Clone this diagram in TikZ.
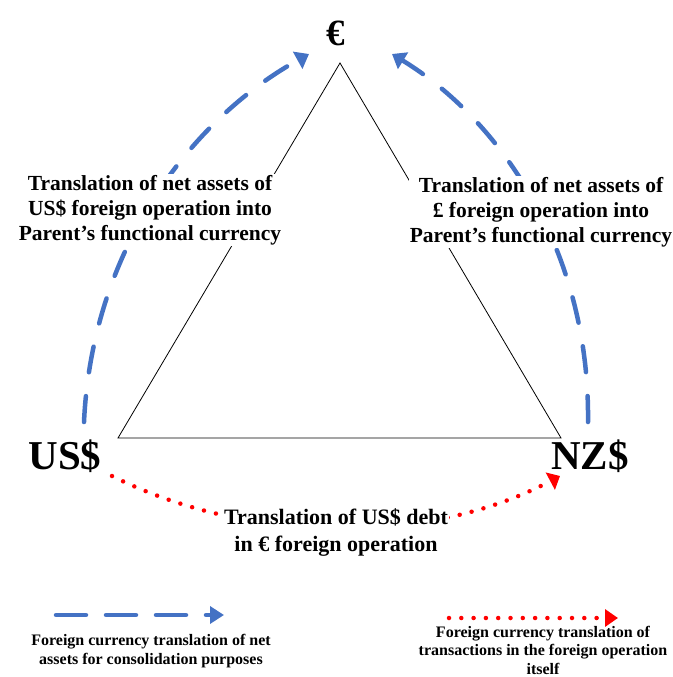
\documentclass[tikz,border=0pt]{standalone}
\usepackage{fontspec}
\setmainfont{Liberation Serif}
\usetikzlibrary{arrows.meta}
\definecolor{cblue}{RGB}{68,114,196}
\begin{document}
\begin{tikzpicture}[x=1pt,y=-1pt,
  cur/.style={font=\bfseries\fontsize{41}{41}\selectfont, inner sep=0pt},
  lbl/.style={font=\bfseries\fontsize{21.5}{25}\selectfont, align=center, fill=white, inner sep=1pt},
  leg/.style={font=\bfseries\fontsize{16}{18.5}\selectfont, align=center, inner sep=0pt},
  bluedash/.style={draw=cblue, line width=4.5pt, line cap=round, dash pattern=on 26pt off 24pt, -{Triangle[length=13pt,width=19pt,line cap=butt]}},
  reddot/.style={draw=red, line width=4.5pt, line cap=round, dash pattern=on 0pt off 12.3pt, -{Triangle[length=11pt,width=19pt,line cap=butt]}},
  tri/.style={draw=black, line width=0.8pt}]
\useasboundingbox (0,0) rectangle (672,677);
% triangle
\coordinate (A) at (340,63);
\coordinate (B) at (118,438);
\coordinate (C) at (561,438);
\draw[tri] (A) -- (B) -- (C) -- cycle;
% currency labels
\node[cur, font=\bfseries\fontsize{37}{37}\selectfont] (eur) at (336,33) {€};
\node[cur] (usd) at (65,456) {US\$};
\node[cur] (nzd) at (590,456) {NZ\$};
% arcs
\coordinate (l0) at (84,422);
\coordinate (l1) at (309,54);
\coordinate (r0) at (588,422);
\coordinate (r1) at (392,54);
\coordinate (d0) at (112,476);
\coordinate (d1) at (560,476);
\draw[bluedash] (l0) .. controls (92,250) and (190,120) .. (l1);
\draw[bluedash] (r0) .. controls (590,250) and (500,120) .. (r1);
\draw[reddot] (d0) .. controls (250,545) and (430,545) .. (d1);
% labels
\node[lbl] (ll) at (150,210) {Translation of net assets of\\US\$ foreign operation into\\Parent’s functional currency};
\node[lbl] (rl) at (541,212) {Translation of net assets of\\£ foreign operation into\\Parent’s functional currency};
\node[lbl, font=\bfseries\fontsize{22}{27}\selectfont, inner sep=1.5pt] (bl) at (336,532) {Translation of US\$ debt\\in € foreign operation};
% legend
\coordinate (lg1a) at (56,615);
\coordinate (lg1b) at (224,615);
\draw[bluedash, dash pattern=on 30pt off 20pt, -{Triangle[length=14pt,width=17pt]}] (lg1a) -- (lg1b);
\node[leg] (lt1) at (151,651) {Foreign currency translation of net\\assets for consolidation purposes};
\coordinate (lg2a) at (449,618);
\coordinate (lg2b) at (618,618);
\draw[reddot, -{Triangle[length=13pt,width=17pt]}] (lg2a) -- (lg2b);
\node[leg] (lt2) at (543,650) {Foreign currency translation of\\transactions in the foreign operation\\itself};
\end{tikzpicture}
\end{document}
